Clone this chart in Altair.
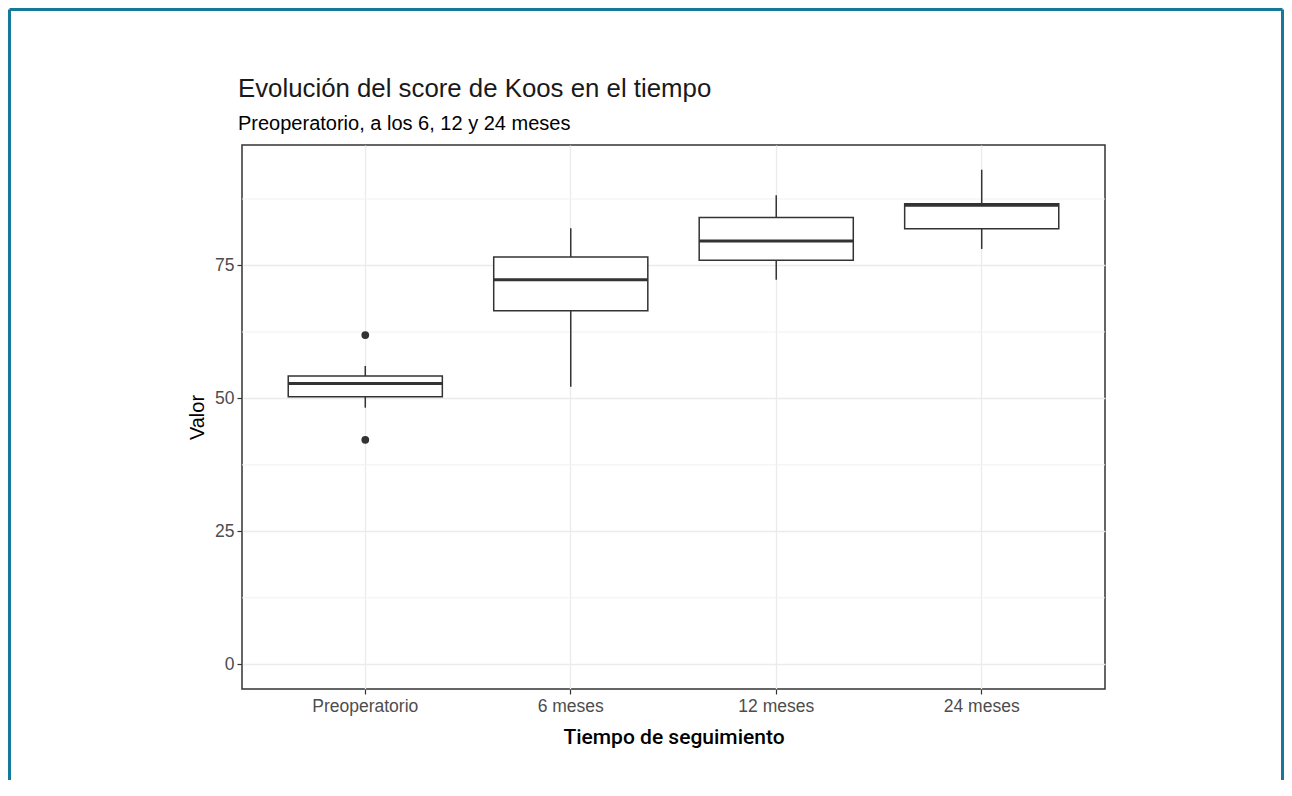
import altair as alt
import pandas as pd

# ---- data ----
categories = ["Preoperatorio", "6 meses", "12 meses", "24 meses"]
whisker_low = [48.25, 52.2, 72.3, 78.1]
q1 = [50.3, 66.5, 76.0, 81.9]
median = [52.8, 72.3, 79.6, 86.3]
q3 = [54.2, 76.6, 84.0, 86.6]
whisker_high = [56.1, 82.0, 88.2, 93.0]
outlier_cat = ["Preoperatorio", "Preoperatorio"]
outlier_val = [61.9, 42.2]
major_breaks = [0, 25, 50, 75]
minor_breaks = [12.5, 37.5, 62.5, 87.5]
y_domain = [-4.65, 97.65]

title_text = "Evolución del score de Koos en el tiempo"
subtitle_text = "Preoperatorio, a los 6, 12 y 24 meses"

box_df = pd.DataFrame({
    "tiempo": categories,
    "lo": whisker_low,
    "q1": q1,
    "med": median,
    "q3": q3,
    "hi": whisker_high,
})
out_df = pd.DataFrame({"tiempo": outlier_cat, "valor": outlier_val})
minor_df = pd.DataFrame({"v": minor_breaks})
frame_df = pd.DataFrame({"k": [0]})
title_df = pd.DataFrame({"t": [title_text]})
subtitle_df = pd.DataFrame({"t": [subtitle_text]})

FONT = "Liberation Sans"
NARROW = "Roboto"
INK = "#333333"

x_scale = alt.Scale(domain=categories, paddingInner=0, paddingOuter=0.1)
y_scale = alt.Scale(domain=y_domain, nice=False, zero=False)

x_axis = alt.Axis(
    title="Tiempo de seguimiento", labelAngle=0, bandPosition=0.5, grid=True,
    labelFontSize=17.5, labelColor="#4d4d4d", labelFont=FONT, labelPadding=3,
    tickColor=INK, tickSize=5, tickWidth=1.2,
    gridColor="#ebebeb", gridWidth=1.3, domain=False,
    titleFont=NARROW, titleFontSize=21, titleFontWeight=500,
    titleColor="#000000", titlePadding=12,
)
y_axis = alt.Axis(
    title="Valor", values=major_breaks, grid=True,
    labelFontSize=17.5, labelColor="#4d4d4d", labelFont=FONT, labelPadding=3,
    tickColor=INK, tickSize=5, tickWidth=1.2,
    gridColor="#ebebeb", gridWidth=1.3, domain=False,
    titleFont=FONT, titleFontSize=20, titleFontWeight="normal",
    titleColor="#000000", titlePadding=7,
)

base = alt.Chart(box_df)

minor = alt.Chart(minor_df).mark_rule(color="#f1f1f1", strokeWidth=1.0).encode(
    y=alt.Y("v:Q", scale=y_scale, axis=y_axis)
)

whisk = base.mark_rule(color=INK, strokeWidth=1.5).encode(
    x=alt.X("tiempo:N", scale=x_scale, axis=x_axis, sort=categories),
    y=alt.Y("lo:Q", scale=y_scale, axis=y_axis),
    y2="hi:Q",
)

box = base.mark_bar(
    width={"band": 0.75}, fill="white", stroke=INK, strokeWidth=1.5
).encode(
    x=alt.X("tiempo:N", scale=x_scale, axis=x_axis, sort=categories),
    y=alt.Y("q1:Q", scale=y_scale, axis=y_axis),
    y2="q3:Q",
)

med = base.mark_bar(
    width={"band": 0.75}, fill=INK, stroke=INK, strokeWidth=3
).encode(
    x=alt.X("tiempo:N", scale=x_scale, axis=x_axis, sort=categories),
    y=alt.Y("med:Q", scale=y_scale, axis=y_axis),
    y2="med:Q",
)

outl = alt.Chart(out_df).mark_circle(color=INK, opacity=1, size=60).encode(
    x=alt.X("tiempo:N", scale=x_scale, axis=x_axis, sort=categories),
    y=alt.Y("valor:Q", scale=y_scale, axis=y_axis),
)

title_mark = alt.Chart(title_df).mark_text(
    font=FONT, fontSize=25.8, color="#1a1a1a", align="left", baseline="alphabetic"
).encode(text="t:N", x=alt.value(-4), y=alt.value(-48))

subtitle_mark = alt.Chart(subtitle_df).mark_text(
    font=FONT, fontSize=20, color="#000000", align="left", baseline="alphabetic"
).encode(text="t:N", x=alt.value(-4), y=alt.value(-15))

TEAL = "#17799a"
frame_left = alt.Chart(frame_df).mark_rule(color=TEAL, strokeWidth=3).encode(
    x=alt.value(-232.5), y=alt.value(-135.5), y2=alt.value(700)
)
frame_top = alt.Chart(frame_df).mark_rule(color=TEAL, strokeWidth=3).encode(
    x=alt.value(-232.5), x2=alt.value(1040.5), y=alt.value(-135.5)
)
frame_right = alt.Chart(frame_df).mark_rule(color=TEAL, strokeWidth=3).encode(
    x=alt.value(1040.5), y=alt.value(-135.5), y2=alt.value(700)
)

chart = alt.layer(
    minor, whisk, box, med, outl, title_mark, subtitle_mark,
    frame_left, frame_top, frame_right
).properties(
    width=863,
    height=544,
    autosize=alt.AutoSizeParams(type="none"),
    padding={"left": 234, "top": 137, "right": 179, "bottom": 91},
).configure(
    background="white"
).configure_view(
    stroke=INK, strokeWidth=1.5
)

chart.save("out.html", embed_options={"renderer": "svg", "actions": False})
